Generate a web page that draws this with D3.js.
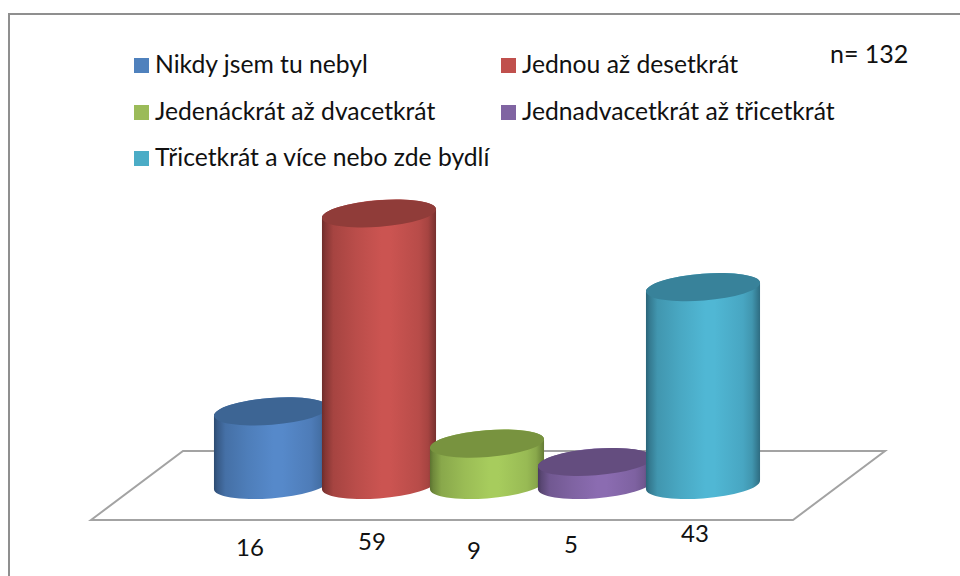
<!DOCTYPE html>
<html><head><meta charset="utf-8">
<style>html,body{margin:0;padding:0;background:#fff}svg{display:block}text{font-family:Lato,"Open Sans",sans-serif;fill:#111}</style>
<script src="https://cdn.jsdelivr.net/npm/d3@7/dist/d3.min.js"></script>
</head><body><svg id="c" width="960" height="576"></svg>
<script>
const categories = ["Nikdy jsem tu nebyl","Jednou až desetkrát","Jedenáckrát až dvacetkrát","Jednadvacetkrát až třicetkrát","Třicetkrát a více nebo zde bydlí"];
const values = [16,59,9,5,43];
const sideColors = ["#5689ca","#cb5451","#a7cc5d","#8b6cb1","#50b7d4"];
const topColors = ["#3d6594","#903c39","#78933f","#644d7f","#38829a"];
const edgeColors = ["#2c4a70","#6e2c2a","#5c7230","#4a3a60","#2a6478"];
const legendColors = ["#4f81bd","#c0504d","#9bbb59","#8064a2","#4bacc6"];
const noteText = "n= 132";

const svg = d3.select("#c");
const x = d3.scaleBand().domain(d3.range(categories.length)).range([214,754]).paddingInner(0).paddingOuter(0);
const y = d3.scaleLinear().domain([0,59]).range([485,213.5]);
const a = 57.2, b = 13.4, tilt = -4.5;
const th = tilt*Math.PI/180;
const halfW = Math.sqrt(a*a*Math.cos(th)**2 + b*b*Math.sin(th)**2);
const tanDy = (a*a-b*b)*Math.sin(th)*Math.cos(th)/halfW;

// frame
svg.append("path").attr("d","M9,576V14H960").attr("fill","none").attr("stroke","#8f8f8f").attr("stroke-width",2);
// floor
svg.append("path").attr("d",d3.line()([[91,520],[183,451],[885,451],[793,520]])+"Z")
  .attr("fill","#fff").attr("stroke","#a3a3a3").attr("stroke-width",2).attr("stroke-linejoin","miter");

// gradients
const defs = svg.append("defs");
values.forEach((v,i)=>{
  const g = defs.append("linearGradient").attr("id","g"+i).attr("x1",0).attr("x2",1).attr("y1",0).attr("y2",0);
  const mid = d3.interpolateRgb(edgeColors[i],sideColors[i]);
  [[0,0],[.03,.25],[.1,.6],[.3,.82],[.52,1],[.6,1],[.85,.8],[.93,.6],[1,.1]].forEach(s=>{
    g.append("stop").attr("offset",s[0]).attr("stop-color",mid(s[1]));
  });
});

// cylinders
values.forEach((v,i)=>{
  const cx = x(i)+x.bandwidth()/2+3, yt = y(v), yb = y(0);
  const xl = cx-halfW, xr = cx+halfW;
  const dy = -tanDy;
  const body = `M${xl},${yt+dy}L${xl},${yb+dy}A${a},${b} ${tilt} 0 0 ${xr},${yb-dy}L${xr},${yt-dy}A${a},${b} ${tilt} 0 0 ${xl},${yt+dy}Z`;
  svg.append("path").attr("d",body).attr("fill",`url(#g${i})`);
  svg.append("ellipse").attr("cx",0).attr("cy",0).attr("rx",a).attr("ry",b)
    .attr("transform",`translate(${cx},${yt}) rotate(${tilt})`).attr("fill",topColors[i]);
});

// value labels (hand-placed in the original, so each has its own baseline)
const labelDx = [-21,-7,-13,-24,-8], labelBase = [556,550,559,553,542];
values.forEach((v,i)=>{
  svg.append("text").attr("x",x(i)+x.bandwidth()/2+3+labelDx[i]).attr("y",labelBase[i])
    .attr("text-anchor","middle").attr("font-size",24).text(v);
});

// legend
const legX = [134,501], legTextX=[155,522], legY=[73,120,166];
categories.forEach((c,i)=>{
  const col=i%2,row=Math.floor(i/2);
  svg.append("rect").attr("x",legX[col]).attr("y",legY[row]-15).attr("width",15).attr("height",15).attr("fill",legendColors[i]);
  svg.append("text").attr("x",legTextX[col]).attr("y",legY[row]).attr("font-size",24.7).text(c);
});
svg.append("text").attr("x",830).attr("y",63).attr("font-size",25).text(noteText);
</script></body></html>
